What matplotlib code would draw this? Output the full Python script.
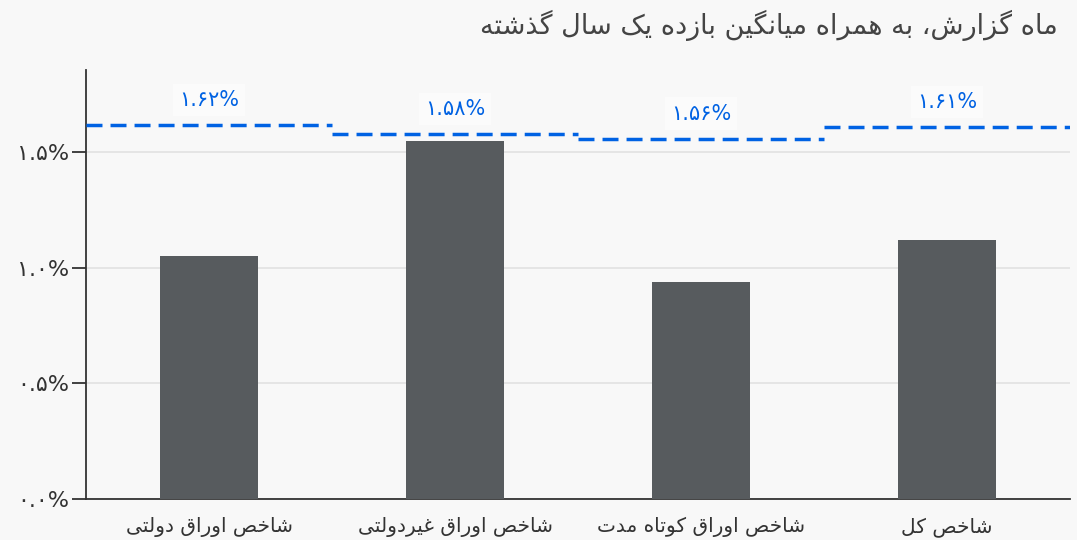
import numpy as np
from matplotlib import pyplot as plt

# data
categories = ["شاخص اوراق دولتی", "شاخص اوراق غیردولتی", "شاخص اوراق کوتاه مدت", "شاخص کل"]
monthReturn = [1.05, 1.55, 0.94, 1.12]      # percent, report month
yearAverage = [1.62, 1.58, 1.56, 1.61]      # percent, last 12 months average
yTicks = [0.0, 0.5, 1.0, 1.5]
title = "ماه گزارش، به همراه میانگین بازده یک سال گذشته"

BAR_COLOR = "#575b5e"
LINE_COLOR = "#0062e3"
BG = "#f8f8f8"
TEXT = "#333333"

# (isolated, final, initial, medial); None for letters that only join to the right
FORMS = {
    "ا": ("\uFE8D", "\uFE8E", None, None),
    "ب": ("\uFE8F", "\uFE90", "\uFE91", "\uFE92"),
    "ت": ("\uFE95", "\uFE96", "\uFE97", "\uFE98"),
    "خ": ("\uFEA5", "\uFEA6", "\uFEA7", "\uFEA8"),
    "د": ("\uFEA9", "\uFEAA", None, None),
    "ذ": ("\uFEAB", "\uFEAC", None, None),
    "ر": ("\uFEAD", "\uFEAE", None, None),
    "ز": ("\uFEAF", "\uFEB0", None, None),
    "س": ("\uFEB1", "\uFEB2", "\uFEB3", "\uFEB4"),
    "ش": ("\uFEB5", "\uFEB6", "\uFEB7", "\uFEB8"),
    "ص": ("\uFEB9", "\uFEBA", "\uFEBB", "\uFEBC"),
    "غ": ("\uFECD", "\uFECE", "\uFECF", "\uFED0"),
    "ق": ("\uFED5", "\uFED6", "\uFED7", "\uFED8"),
    "ل": ("\uFEDD", "\uFEDE", "\uFEDF", "\uFEE0"),
    "م": ("\uFEE1", "\uFEE2", "\uFEE3", "\uFEE4"),
    "ن": ("\uFEE5", "\uFEE6", "\uFEE7", "\uFEE8"),
    "ه": ("\uFEE9", "\uFEEA", "\uFEEB", "\uFEEC"),
    "و": ("\uFEED", "\uFEEE", None, None),
    "ی": ("\uFBFC", "\uFBFD", "\uFBFE", "\uFBFF"),
    "ک": ("\uFB8E", "\uFB8F", "\uFB90", "\uFB91"),
    "گ": ("\uFB92", "\uFB93", "\uFB94", "\uFB95"),
}


def dual(c):
    return c in FORMS and FORMS[c][2] is not None


def shape(text):
    # pick contextual glyph forms, then reverse for left-to-right drawing
    out = []
    for i, c in enumerate(text):
        if c not in FORMS:
            out.append(c)
            continue
        prev = text[i - 1] if i > 0 else ""
        nxt = text[i + 1] if i + 1 < len(text) else ""
        joinPrev = dual(prev)
        joinNext = dual(c) and nxt in FORMS
        iso, fin, ini, med = FORMS[c]
        if joinPrev and joinNext:
            out.append(med)
        elif joinPrev:
            out.append(fin)
        elif joinNext:
            out.append(ini)
        else:
            out.append(iso)
    return "".join(reversed(out))


def faDigits(s):
    return s.translate(str.maketrans("0123456789", "۰۱۲۳۴۵۶۷۸۹"))


plt.rcParams['font.family'] = ['DejaVu Sans']
plt.rcParams['lines.scale_dashes'] = False

fig = plt.figure(figsize=(10.77, 5.40), dpi=100, facecolor=BG)
ax = fig.add_axes([86 / 1077, 41 / 540, 984 / 1077, 429 / 540], facecolor=BG)

x = np.arange(len(categories))
ax.bar(x, monthReturn, width=0.4, color=BAR_COLOR, zorder=3)

# dashed average line, one flat piece across each category
for i, v in enumerate(yearAverage):
    ax.plot([i - 0.5, i + 0.5], [v, v], color=LINE_COLOR, lw=2.5, dashes=(11.5, 5.8),
            dash_capstyle='butt', zorder=4)
    ax.annotate(faDigits(f"{v:.2f}%"), (i, v), xytext=(0, 18), textcoords='offset points',
                ha='center', va='center', fontsize=15, color=LINE_COLOR,
                bbox=dict(boxstyle='square,pad=0.3', fc='white', ec='none', alpha=0.5), zorder=5)

ax.set_xlim(-0.5, len(categories) - 0.5)
ax.set_ylim(0, 1.857)
ax.set_yticks(yTicks)
ax.set_yticklabels([faDigits(f"{t:.1f}%") for t in yTicks], fontsize=16, color=TEXT)
ax.set_xticks(x)
ax.set_xticklabels([shape(c) for c in categories], fontsize=14.5, color=TEXT)
ax.tick_params(axis='x', length=0, pad=13)
ax.tick_params(axis='y', length=10, width=1.3, color="#333333", pad=2)
ax.yaxis.grid(True, color="#e4e4e4", lw=1.3, zorder=0)
ax.set_axisbelow(True)

for side in ['top', 'right']:
    ax.spines[side].set_visible(False)
for side in ['left', 'bottom']:
    ax.spines[side].set_color("#333333")
    ax.spines[side].set_linewidth(1.3)

fig.text(1058 / 1077, 1 - 25 / 540, shape(title), ha='right', va='center',
         fontsize=19.5, color="#444444")

fig.savefig("out.png", dpi=100, facecolor=BG)
